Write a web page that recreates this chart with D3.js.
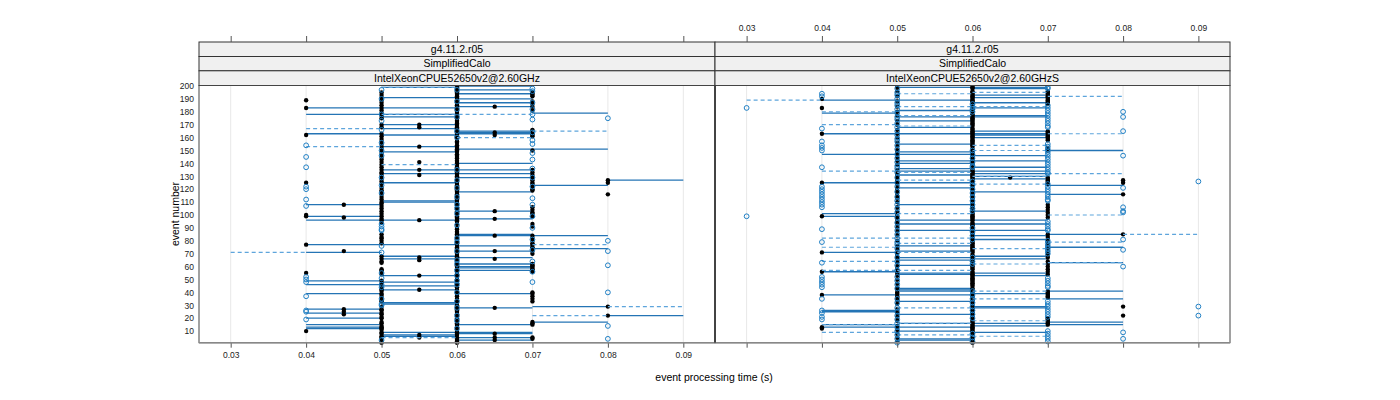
<!DOCTYPE html>
<html><head><meta charset="utf-8">
<script src="https://cdn.jsdelivr.net/npm/d3@7"></script>
<style>body{margin:0;background:#fff}svg{display:block}</style>
</head><body>
<svg id="c" width="1400" height="400"></svg>
<script>
// ---------- data ----------
const strip1 = "g4.11.2.r05";
const strip2 = "SimplifiedCalo";
const panelNames = ["IntelXeonCPUE52650v2@2.60GHz", "IntelXeonCPUE52650v2@2.60GHzS"];
const xTicks = [0.03, 0.04, 0.05, 0.06, 0.07, 0.08, 0.09];
const yTicks = [10,20,30,40,50,60,70,80,90,100,110,120,130,140,150,160,170,180,190,200];

// step segments: [event, from ms, to ms]
const solidL = [[200,60,70],[199,50,60],[197,60,70],[194,60,70],[191,50,60],[190,60,70],[187,60,70],[184,60,70],[183,40,60],[179,70,80],[178,40,60],[176,50,60],[170,50,60],[167,50,60],[165,60,70],[164,60,70],[163,40,50],[163,60,70],[162,50,60],[153,50,60],[151,60,80],[149,50,60],[140,60,70],[135,50,60],[135,60,70],[132,50,60],[132,60,70],[129,60,70],[127,80,90],[125,50,60],[123,70,80],[118,60,70],[111,50,60],[110,50,60],[108,40,50],[103,60,70],[99,40,50],[97,60,70],[96,40,60],[85,60,70],[84,60,80],[77,40,60],[76,60,70],[74,70,80],[72,60,70],[71,40,50],[68,50,60],[67,60,70],[66,50,60],[62,60,70],[60,60,70],[59,60,70],[57,60,70],[53,50,60],[49,40,50],[48,50,60],[46,40,50],[45,50,60],[42,50,60],[39,40,50],[39,60,70],[32,50,60],[31,50,60],[29,70,80],[28,60,70],[27,40,50],[24,40,50],[22,80,90],[20,40,50],[17,70,80],[15,40,50],[15,60,70],[13,40,50],[12,40,50],[9,50,70],[8,60,70],[7,50,60],[6,50,60],[5,60,70],[3,60,70]];
const dashedL = [[199,50,60],[178,50,70],[167,40,50],[165,70,80],[160,60,70],[153,40,50],[139,50,60],[77,70,80],[71,30,40],[29,80,90],[22,70,80],[5,50,60]];
const solidR = [[189,40,50],[179,40,50],[163,40,50],[147,40,50],[125,40,50],[101,40,50],[99,40,50],[71,40,50],[56,40,50],[38,40,50],[26,40,50],[25,40,50],[15,40,50],[13,40,50],
[199,50,60],[189,50,60],[181,50,60],[176,50,60],[173,50,60],[168,50,60],[163,50,60],[155,50,60],[149,50,60],[147,50,60],[142,50,60],[140,50,60],[136,50,60],[134,50,60],[131,50,60],[125,50,60],[121,50,60],[108,50,60],[96,50,60],[93,50,60],[88,50,60],[76,50,60],[72,50,60],[67,50,60],[65,50,60],[61,50,60],[55,50,60],[54,50,60],[43,50,60],[42,50,60],[41,50,60],[38,50,60],[33,50,60],[23,50,60],[16,50,60],[13,50,60],[10,50,60],[4,50,60],[3,50,60],
[199,60,70],[198,60,70],[193,60,70],[191,60,70],[187,60,70],[183,60,70],[177,60,70],[176,60,70],[165,60,70],[163,60,70],[162,60,70],[160,60,70],[146,60,70],[142,60,70],[137,60,70],[134,60,70],[132,60,70],[130,60,70],[128,60,70],[118,60,70],[103,60,70],[96,60,70],[93,60,70],[88,60,70],[84,60,70],[81,60,70],[68,60,70],[66,60,70],[55,60,70],[53,60,70],[39,60,70],[29,60,70],[28,60,70],[16,60,70],[14,60,70],[9,60,70],
[150,70,80],[123,70,80],[116,70,80],[85,70,80],[75,70,80],[63,70,80],[41,70,80],[35,70,80],[17,70,80],[15,70,80]];
const dashedR = [[189,30,40],[180,40,50],[170,40,50],[134,40,50],[82,40,50],[75,40,50],[64,40,50],[57,40,50],[15,40,50],[9,40,50],
[194,50,60],[184,50,60],[177,50,60],[169,50,60],[133,50,60],[127,50,60],[101,50,60],[82,50,60],[78,50,60],[71,50,60],[57,50,60],[28,50,60],[16,50,60],[7,50,60],
[195,60,70],[184,60,70],[154,60,70],[150,60,70],[130,60,70],[124,60,70],[74,60,70],[62,60,70],[41,60,70],[35,60,70],[18,60,70],[6,60,70],
[192,70,80],[163,70,80],[132,70,80],[100,70,80],[79,70,80],[63,70,80],[85,80,90]];

// points: [time ms, [events]]
const blackL = [
 [40,[10,55,77,99,100,125,162,183,189]],
 [45,[23,25,27,72,98,108]],
 [50,[1,2,4,5,6,8,9,11,12,13,14,16,17,20,21,23,24,26,27,29,33,34,36,38,39,41,42,43,45,47,49,54,56,57,58,63,64,66,68,78,80,82,83,85,94,96,97,99,101,103,105,107,109,110,112,114,116,118,119,121,124,126,128,130,132,133,135,137,139,141,143,145,147,149,151,153,155,157,159,161,163,168,170,175,177,179,181,183,185,187,189,191,193,195]],
 [55,[5,7,42,53,65,67,96,131,135,141,153,168,170]],
 [60,[1,2,3,4,5,7,8,9,10,11,13,14,15,16,17,19,20,21,23,24,25,26,27,28,29,30,32,33,34,35,37,38,39,40,41,42,44,45,46,47,49,50,52,53,54,55,56,58,59,60,61,63,64,66,67,68,69,70,71,72,73,74,75,77,78,80,81,83,84,85,86,87,89,90,93,95,96,97,98,99,100,102,103,104,106,107,109,110,111,112,113,115,116,117,118,119,120,122,123,124,125,126,128,129,130,131,132,133,134,136,137,138,139,140,141,142,144,145,146,147,149,150,151,152,153,154,156,157,159,160,161,162,163,164,165,166,167,168,169,170,171,172,173,175,176,177,178,179,180,181,183,184,185,186,187,189,190,191,192,193,194,195,196,198,199,200]],
 [65,[3,5,8,28,66,72,84,97,103,162,164,184]],
 [70,[4,5,15,16,17,33,35,37,39,40,56,57,58,59,60,61,62,70,72,74,75,77,78,80,82,84,91,93,99,101,102,104,106,119,120,122,124,125,127,129,131,133,135,150,161,162,163,165,166,181,184,186,188,192,193,194,195]],
 [80,[22,29,116,125,127]]
];
const blueL = [
 [40,[19,25,26,37,48,50,52,107,112,120,122,137,145,154]],
 [50,[3,30,31,35,44,46,51,55,71,76,88,89,91,93,117,123,129,146,150,156,166,173,178,190,197]],
 [60,[12,18,22,28,33,40,46,49,53,57,62,65,72,79,82,92,101,105,108,114,121,127,135,160,165,176,182,188,197]],
 [70,[48,56,64,73,81,90,99,108,113,122,129,136,143,148,155,158,164,174,178,182,187,196,198]],
 [80,[4,14,40,61,72,80,175]]
];
const blackR = [
 [40,[12,13,38,56,71,99,125,163,183,190]],
 [50,[2,5,8,11,14,18,21,24,27,31,34,36,37,39,40,42,44,47,50,53,55,58,60,63,66,68,70,73,76,80,84,87,90,93,95,97,99,100,103,106,110,113,115,117,119,121,124,126,128,130,132,135,139,142,145,148,150,153,156,160,163,166,170,173,177,180,184,188,192,196,199]],
 [60,[1,2,3,4,5,7,8,9,10,11,12,13,14,15,16,17,18,20,21,22,23,24,25,26,27,28,29,30,32,33,34,35,36,37,38,39,40,41,42,43,45,46,47,48,49,50,51,52,53,54,55,56,58,59,60,61,62,63,64,65,66,67,68,69,71,72,73,74,75,76,77,78,79,80,81,82,84,85,86,87,88,89,90,91,92,93,94,96,97,98,99,100,101,102,103,104,105,106,107,108,110,111,112,113,114,115,116,117,118,119,120,122,123,124,125,126,127,128,129,130,131,132,133,134,135,137,138,139,140,141,142,143,144,145,146,147,148,149,150,151,153,154,155,156,157,158,159,160,161,162,163,164,165,166,167,169,170,171,172,173,174,175,176,177,178,180,181,182,183,184,185,186,187,188,189,190,191,192,193,194,195,196,198,199,200]],
 [65,[129]],
 [70,[15,16,17,18,19,20,36,37,38,39,40,41,54,56,58,60,62,64,67,69,71,73,75,77,79,81,83,85,98,100,102,104,106,108,124,125,126,127,128,129,150,151,152,158,159,160,161,162,163,164,165,186,187,188,189,190,191,192,193,194,195,196]],
 [80,[22,29,85,116,125,127]]
];
const blueR = [
 [30,[99,183]],
 [40,[19,21,24,26,35,44,46,48,50,52,63,79,89,106,108,110,112,114,116,118,120,122,137,150,152,154,157,167,192,194]],
 [50,[1,4,7,10,13,16,19,22,25,28,32,35,43,46,49,52,57,61,64,67,71,74,77,79,82,85,88,91,94,98,102,105,108,111,114,118,122,125,129,133,136,138,141,144,147,151,154,157,159,162,165,168,171,174,176,179,182,185,187,190,193,195,198]],
 [60,[2,5,8,20,23,26,29,32,35,38,41,62,64,67,81,84,87,90,103,105,108,111,114,117,120,123,126,137,138,141,144,147,150,180,182,184,186]],
 [70,[2,4,6,8,10,21,23,25,27,29,31,33,44,45,47,49,51,70,72,74,76,78,80,88,89,91,93,95,111,112,114,116,118,120,122,124,132,133,135,137,139,141,143,145,147,149,151,153,155,168,169,171,173,175,177,179,181,183,185,198,199]],
 [80,[4,9,60,73,81,102,103,106,121,146,165,176,180]],
 [90,[22,29,126]]
];

// ---------- layout ----------
const svg = d3.select("#c");
const font = "'Liberation Sans', Arial, Helvetica, sans-serif";
const panelTop = 85.5, panelBottom = 342.7;
const panelX = [[199, 715], [715, 1230]];
const stripYs = [42, 56.5, 70.8, 85.5];
const y = d3.scaleLinear().domain([1, 200]).range([panelBottom, panelTop + 0.5]);
const xDomain = [0.03 - 0.06 * 0.07, 0.09 + 0.06 * 0.07];

const C_SOLID = "#2474b5", C_DASH = "#5ea5dc", C_BLUE = "#1f7fc4";

const panels = [
  {name: panelNames[0], solid: solidL, dashed: dashedL, black: blackL, blue: blueL},
  {name: panelNames[1], solid: solidR, dashed: dashedR, black: blackR, blue: blueR}
];

panels.forEach((p, i) => {
  const [x0, x1] = panelX[i];
  const x = d3.scaleLinear().domain(xDomain).range([x0, x1]);
  const g = svg.append("g");
  g.selectAll("line.grid").data(xTicks).enter().append("line")
    .attr("x1", d => x(d)).attr("x2", d => x(d))
    .attr("y1", panelTop).attr("y2", panelBottom)
    .attr("stroke", "#e8e8e8").attr("stroke-width", 1);
  g.selectAll("line.s").data(p.solid).enter().append("line")
    .attr("x1", d => x(d[1] / 1000)).attr("x2", d => x(d[2] / 1000))
    .attr("y1", d => y(d[0])).attr("y2", d => y(d[0]))
    .attr("stroke", C_SOLID).attr("stroke-width", 1.3);
  const bl = p.black.flatMap(([t, evs]) => evs.map(e => [t, e]));
  g.selectAll("circle.b").data(bl).enter().append("circle")
    .attr("cx", d => x(d[0] / 1000)).attr("cy", d => y(d[1]))
    .attr("r", 2.2).attr("fill", "#000");
  g.selectAll("line.d").data(p.dashed).enter().append("line")
    .attr("x1", d => x(d[1] / 1000)).attr("x2", d => x(d[2] / 1000))
    .attr("y1", d => y(d[0])).attr("y2", d => y(d[0]))
    .attr("stroke", C_DASH).attr("stroke-width", 1.2).attr("stroke-dasharray", "4,3");
  const bu = p.blue.flatMap(([t, evs]) => evs.map(e => [t, e]));
  g.selectAll("circle.o").data(bu).enter().append("circle")
    .attr("cx", d => x(d[0] / 1000)).attr("cy", d => y(d[1]))
    .attr("r", 2.4).attr("fill", "none").attr("stroke", C_BLUE).attr("stroke-width", 1);

  const labels = [strip1, strip2, p.name];
  labels.forEach((lab, k) => {
    svg.append("rect").attr("x", x0).attr("y", stripYs[k])
      .attr("width", x1 - x0).attr("height", stripYs[k + 1] - stripYs[k])
      .attr("fill", "#f0f0f0").attr("stroke", "#333").attr("stroke-width", 1);
    svg.append("text").attr("x", (x0 + x1) / 2).attr("y", (stripYs[k] + stripYs[k + 1]) / 2 + 3.7)
      .attr("text-anchor", "middle").attr("font-family", font).attr("font-size", 10.5)
      .attr("fill", "#000").text(lab);
  });
  svg.append("rect").attr("x", x0).attr("y", panelTop).attr("width", x1 - x0)
    .attr("height", panelBottom - panelTop).attr("fill", "none")
    .attr("stroke", "#444").attr("stroke-width", 1);

  if (i === 0) {
    const ax = d3.axisBottom(x).tickValues(xTicks).tickSize(5).tickPadding(4).tickFormat(d3.format(".2f"));
    const a = svg.append("g").attr("transform", `translate(0,${panelBottom})`).call(ax);
    a.select(".domain").remove();
    const at = d3.axisTop(x).tickValues(xTicks).tickSize(6).tickFormat("");
    const b = svg.append("g").attr("transform", `translate(0,${stripYs[0]})`).call(at);
    b.select(".domain").remove();
  } else {
    const at = d3.axisTop(x).tickValues(xTicks).tickSize(6).tickPadding(5).tickFormat(d3.format(".2f"));
    const a = svg.append("g").attr("transform", `translate(0,${stripYs[0]})`).call(at);
    a.select(".domain").remove();
    const ab = d3.axisBottom(x).tickValues(xTicks).tickSize(5).tickFormat("");
    const b = svg.append("g").attr("transform", `translate(0,${panelBottom})`).call(ab);
    b.select(".domain").remove();
  }
});

svg.append("line").attr("x1", 199).attr("x2", 1230).attr("y1", panelBottom).attr("y2", panelBottom)
  .attr("stroke", "#888").attr("stroke-width", 1.5);
svg.append("line").attr("x1", 715).attr("x2", 715).attr("y1", panelTop).attr("y2", panelBottom)
  .attr("stroke", "#333").attr("stroke-width", 1.5);

svg.selectAll(".tick line").attr("stroke", "#555");
svg.selectAll(".tick text").attr("font-family", font).attr("font-size", 8.5).attr("fill", "#222");

const ya = d3.axisLeft(y).tickValues(yTicks).tickSize(0).tickPadding(5);
const yg = svg.append("g").attr("transform", "translate(199,0)").call(ya);
yg.select(".domain").remove();
yg.selectAll("text").attr("font-family", font).attr("font-size", 8.5).attr("fill", "#222");

svg.append("text").attr("x", 714).attr("y", 381).attr("text-anchor", "middle")
  .attr("font-family", font).attr("font-size", 10.5).text("event processing time (s)");
svg.append("text").attr("transform", "translate(179,214) rotate(-90)").attr("text-anchor", "middle")
  .attr("font-family", font).attr("font-size", 10.5).text("event number");
</script>
</body></html>
